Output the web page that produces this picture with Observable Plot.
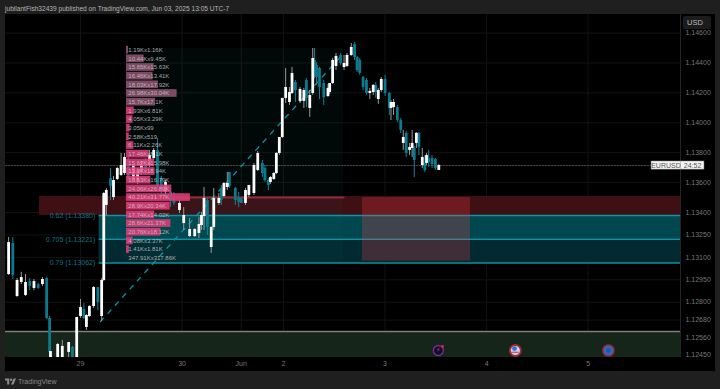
<!DOCTYPE html>
<html><head><meta charset="utf-8">
<script src="https://cdn.jsdelivr.net/npm/d3@7"></script>
<script src="https://cdn.jsdelivr.net/npm/@observablehq/plot@0.6"></script>
<style>
html,body{margin:0;padding:0;background:#1f1f1f;width:720px;height:389px;overflow:hidden;font-family:"Liberation Sans",sans-serif}
#head{height:14px;line-height:18px;padding-left:5px;font-size:6.6px;color:#b5b5b5;white-space:nowrap}
#chart{margin-left:5px;width:710px;height:357px;background:#000;position:relative}
#chart svg{display:block;background:transparent}
#usd{position:absolute;left:678px;top:2px;width:28px;height:13px;line-height:13px;background:#1c1c1c;border-radius:2px;color:#bbb;font-size:7.5px;padding-left:4px;box-sizing:border-box}
#foot{position:absolute;left:5px;top:376px;height:10px;display:flex;align-items:center;gap:2px;color:#8a8a8a;font-size:7px}
</style></head>
<body>
<div id="head">jubilantFish32439 published on TradingView.com, Jun 03, 2025 13:05 UTC-7</div>
<div id="chart"><div id="usd">USD</div></div>
<div id="foot"><svg width="11" height="7" viewBox="0 0 36 20"><path d="M14 20H7V7H0V0h14v20zM28 20h-8l8-20h8l-8 20z" fill="#8a8a8a"/><circle cx="20" cy="4" r="4" fill="#8a8a8a"/></svg><span>TradingView</span></div>
<script>
// x positions are hourly bar numbers counted from the "29" label; prices are in points (1/100000)
const dayTicks = [0, 24, 38, 48, 72, 96, 120];
const dayLabels = ["29", "30", "Jun", "2", "3", "4", "5"];
const priceTicks = [114600, 114400, 114200, 114000, 113800, 113600, 113400, 113250, 113100, 112950, 112800, 112680, 112560, 112450];

// [bar, open, high, low, close]
const candlesMay28 = [
 [-17,112985,113233,112979,113199],[-16,113193,113233,112952,112979],[-15,112838,112958,112831,112945],
 [-14,112932,113000,112918,112965],[-13,112845,112985,112838,112932],[-12,112938,112958,112878,112905],
 [-11,112892,112952,112878,112938],[-10,112918,112925,112885,112892],[-9,112918,112965,112905,112952],
 [-8,112958,112965,112684,112691],[-7.3,112691,112704,112430,112464]
];
const candlesMay29 = [
 [-7.1,112423,112497,112410,112470],[-5.4,112430,112524,112423,112517],[-4.3,112430,112544,112423,112504],
 [-2.8,112464,112530,112423,112530],[-1.9,112497,112504,112423,112430],[-0.9,112423,112698,112423,112698],
 [0,112704,112818,112691,112764],[0.8,112751,112791,112684,112691],[1.4,112631,112718,112611,112711],
 [2.1,112704,112778,112698,112771],[3.1,112771,112905,112758,112898],[4.1,112898,112898,112744,112798],
 [5,112704,112958,112671,112945],[5.5,112945,113534,112938,113527],[6.1,113447,113561,113380,113547],
 [7.1,113627,113694,113480,113574],[7.8,113500,113641,113480,113614],[8.7,113621,113701,113614,113694],
 [9.6,113648,113795,113641,113714],[10.4,113661,113795,113648,113768],[11.3,113748,113768,113614,113627],
 [12.5,113614,113728,113601,113714],[13.5,113601,113694,113587,113681],[14.4,113668,113748,113648,113734],
 [15.4,113748,113761,113648,113668],[16.3,113714,113815,113701,113781],[17.3,113761,113828,113748,113815],
 [18.2,113815,113895,113547,113581],[19.1,113627,113641,113514,113547],[20.1,113534,113614,113514,113601],
 [21.3,113534,113561,113433,113480]
];
const candlesMay30 = [
 [22.1,113480,113534,113447,113460],[23.4,113413,113480,113393,113460],[24.4,113326,113433,113280,113380],
 [25.8,113239,113360,113233,113286],[27,113239,113293,113233,113286],[28,113260,113367,113226,113320],
 [28.6,113313,113400,113280,113380],[29.2,113373,113567,113280,113494],[30,113480,113494,113246,113300],
 [30.9,113166,113306,113126,113300],[31.5,113300,113561,113280,113494],[32.7,113460,113527,113447,113494],
 [33.3,113561,113581,113447,113480],[33.9,113507,113601,113500,113594],[34.7,113567,113668,113547,113594],
 [35.2,113668,113668,113561,113574],[36.6,113561,113567,113447,113480],[37.4,113494,113534,113433,113467]
];
const candlesJun1 = [
 [38,113494,113494,113460,113460],[39,113460,113561,113447,113547],[39.8,113514,113581,113500,113581],
 [41,113527,113728,113514,113714],[41.9,113681,113808,113674,113795],[43,113728,113748,113634,113661],
 [43.6,113694,113714,113601,113614],[44.4,113614,113627,113547,113581],[44.9,113601,113641,113587,113634],
 [45.7,113621,113668,113614,113661],[46.3,113661,113801,113654,113795],[47,113795,113902,113781,113902],
 [47.7,113902,114163,113895,114163]
];
const candlesJun2 = [
 [48.5,114163,114363,114129,114236],[49.4,114136,114236,114116,114203],[50,114196,114370,114189,114330],
 [50.8,114270,114283,114136,114216],[51.9,114143,114236,114129,114223],[52.8,114143,114230,114096,114216],
 [53.4,114283,114296,114102,114163],[54.2,114096,114216,114036,114183],[54.9,114196,114497,114183,114430],
 [55.3,114417,114497,114296,114317],[55.8,114383,114404,114250,114303],[56.5,114363,114370,114156,114236],
 [57.5,114263,114283,114116,114169],[58.5,114176,114256,114169,114230],[58.9,114203,114263,114189,114263],
 [59.6,114263,114430,114256,114417],[60.4,114377,114464,114350,114444],[61.5,114450,114464,114383,114397],
 [62.3,114370,114450,114350,114397],[63,114377,114464,114370,114450],[64,114450,114531,114444,114504],
 [64.8,114524,114537,114417,114437],[65.4,114437,114444,114337,114350],[66,114417,114430,114317,114330],
 [66.8,114303,114310,114216,114236],[67.6,114283,114296,114183,114196],[68.4,114196,114230,114156,114210],
 [69.2,114203,114256,114183,114250],[69.8,114250,114270,114163,114203],[70.4,114156,114230,114123,114216],
 [71.1,114216,114303,114203,114290],[72,114290,114317,114176,114196]
];
const candlesJun3 = [
 [73,114196,114203,114049,114096],[73.4,114096,114149,114015,114136],[74,114102,114156,114049,114136],
 [74.9,114102,114116,114002,114015],[75.7,114015,114029,113929,113949],[76.3,113862,113949,113815,113902],
 [77,113929,113942,113768,113795],[77.8,113815,113862,113781,113835],[78.4,113828,113949,113768,113862],
 [78.9,113828,113842,113634,113748],[79.4,113862,113935,113828,113929],[80,113929,113935,113781,113835],
 [80.8,113714,113828,113694,113768],[81.4,113728,113781,113667,113681],[81.8,113728,113795,113714,113781],
 [82.3,113761,113815,113701,113734],[83.1,113761,113781,113694,113721],[83.9,113755,113761,113681,113694],
 [84.7,113681,113721,113681,113714]
];

// volume profile rows, top to bottom
const rowPrice = [114486,114428,114370,114312,114254,114196,114138,114080,114022,113964,113906,113848,113790,113732,113674,113616,113558,113500,113442,113384,113326,113268,113210,113152,113094];
const rowLabel = ["1.19Kx1.16K","10.44Kx9.45K","15.65Kx15.63K","16.46Kx13.41K","18.03Kx17.92K","26.98Kx30.04K","15.7Kx17.1K","1.93Kx6.81K","4.05Kx3.29K","3.05Kx99","2.58Kx519","6.11Kx2.26K","17.46Kx8.1K","15.67Kx15.98K","13.3Kx18.94K","10.63Kx16.79K","24.06Kx26.89K","40.21Kx31.77K","28.9Kx20.34K","17.74Kx14.02K","28.6Kx21.37K","20.76Kx18.12K","4.08Kx3.37K","1.41Kx1.81K","347.91Kx317.86K"];
const rowBuy  = [1.19,10.44,15.65,16.46,18.03,26.98,15.7,1.93,4.05,3.05,2.58,6.11,17.46,15.67,13.3,10.63,24.06,40.21,28.9,17.74,28.6,20.76,4.08,1.41];
const rowSell = [1.16,9.45,15.63,13.41,17.92,30.04,17.1,6.81,3.29,0.99,0.52,2.26,8.1,15.98,18.94,16.79,26.89,31.77,20.34,14.02,21.37,18.12,3.37,1.81];

// levels and zones, prices in points
const fibLevels = [113380, 113221, 113062];
const fibNames = ["0.62", "0.705", "0.79"];
const redZone = [113507, 113380];
const greenTop = 112604;
const lastPrice = 113714;

const P = v => v / 100000;
const left = -17.73, right = 141.84;
const cand = [...candlesMay28, ...candlesMay29, ...candlesMay30, ...candlesJun1, ...candlesJun2, ...candlesJun3]
  .map(([i,o,h,l,c]) => ({i, o:P(o), h:P(h), l:P(l), c:P(c)}));
const up = cand.filter(d => d.c >= d.o), down = cand.filter(d => d.c < d.o);
const rows = rowPrice.map((p,k) => ({k, p:P(p), label:rowLabel[k], total: k < rowBuy.length ? rowBuy[k]+rowSell[k] : 0}));
const bars = rows.filter(r => r.total > 0);
const half = 0.00029, profX = 10.87, profK = 0.21;
const TEAL = "#0c93a6";

const rect = (a, o) => Plot.rect(a, {x1:"a", x2:"b", y1:"t", y2:"u", ...o});
const svg = Plot.plot({
  width: 710, height: 357,
  marginLeft: 0, marginRight: 35, marginTop: 0, marginBottom: 14,
  x: {domain:[left, right], label:null},
  y: {domain:[1.124301, 1.147244], label:null},
  style: {background:"transparent", fontFamily:'"Liberation Sans",sans-serif', fontSize:"7px"},
  marks: [
    Plot.gridX(dayTicks, {stroke:"#131313", strokeOpacity:1}),
    Plot.gridY(priceTicks.map(P), {stroke:"#131313", strokeOpacity:1}),
    Plot.ruleX([right], {stroke:"#242424"}),
    Plot.axisY(priceTicks.map(P), {anchor:"right", tickSize:0, tickPadding:5, tickFormat:d3.format(".5f"), color:"#777", label:null, fontSize:7}),
    Plot.axisX(dayTicks, {anchor:"bottom", tickSize:0, tickPadding:4, tickFormat:(d,k)=>dayLabels[dayTicks.indexOf(d)], color:"#777", label:null, fontSize:7}),
    // zones
    rect([{a:-9.7,b:right,t:P(redZone[0]),u:P(redZone[1])}], {fill:"#3e0f13"}),
    rect([{a:4.4,b:right,t:P(fibLevels[0]),u:P(fibLevels[1])}], {fill:"#01474f"}),
    rect([{a:4.4,b:right,t:P(fibLevels[1]),u:P(fibLevels[2])}], {fill:"#022a30"}),
    rect([{a:left,b:right,t:P(greenTop),u:1.124301}], {fill:"#15251a"}),
    Plot.ruleY([P(greenTop)], {stroke:"#7d7f7a", strokeWidth:1.5}),
    rect([{a:10.87,b:62.2,t:1.14497,u:1.13075}], {fill:"#0f5a5a", fillOpacity:0.09}),
    Plot.ruleY(fibLevels.map(P), {x1:()=>4.4, x2:()=>right, stroke:TEAL, strokeWidth:1.6}),
    Plot.line([{x:10.87,y:1.1350},{x:62.2,y:1.1350}], {x:"x", y:"y", stroke:"#8f2c38", strokeWidth:2}),
    rect([{a:66.65,b:92.2,t:1.13500,u:1.13075}], {fill:"rgb(250,60,70)", fillOpacity:0.25}),
    Plot.text(fibLevels.map((v,k)=>({v:P(v), s:`${fibNames[k]} (${P(v).toFixed(5)})`})), {x:()=>3.5, y:"v", text:"s", textAnchor:"end", fill:"#0d7688", fontSize:7, dy:0}),
    // last price
    Plot.line([{x:left,y:P(lastPrice)},{x:135,y:P(lastPrice)}], {x:"x", y:"y", stroke:"#4a4a4a", strokeWidth:1, strokeDasharray:"1.5,1.5"}),
    // measure line
    Plot.line([{x:4.73,y:1.12671},{x:62.2,y:1.14464}], {x:"x", y:"y", stroke:TEAL, strokeWidth:1.3, strokeDasharray:"4.5,6.5"}),
    // candles
    Plot.ruleX(down, {x:"i", y1:"l", y2:"h", stroke:"#0b8598", strokeWidth:1, clip:true}),
    Plot.ruleX(up, {x:"i", y1:"l", y2:"h", stroke:"#9a9a9a", strokeWidth:1, clip:true}),
    Plot.ruleX(down, {x:"i", y1:"o", y2:"c", stroke:"#0a7b8e", strokeWidth:2.8, clip:true}),
    Plot.ruleX(up, {x:"i", y1:"o", y2:"c", stroke:"#ffffff", strokeWidth:2.8, clip:true}),
    // volume profile
    Plot.rect(bars, {x1:()=>profX, x2:d=>profX+profK*d.total, y1:d=>d.p+half, y2:d=>d.p-half, insetTop:0.5, insetBottom:0.5,
      fill:d=>d.k<7?"#8d5370":"#df3c7a", fillOpacity:0.88}),
    Plot.text(rows, {x:()=>11.3, y:"p", text:"label", textAnchor:"start", fill:"#c8c8c8", fillOpacity:0.85, fontSize:6}),
    // events
    Plot.dot([{x:84.6,y:1.12477}], {x:"x", y:"y", r:5, fill:"#140a1e", stroke:"#7a2c9c", strokeWidth:1.3}),
    Plot.text([{x:84.6,y:1.12477}], {x:"x", y:"y", text:()=>"\u26A1", fill:"#a050c8", fontSize:6, fontFamily:"DejaVu Sans"}),
    Plot.dot([{x:85.6,y:1.12504}], {x:"x", y:"y", r:1.4, fill:"#e0244a"}),
    Plot.dot([{x:102.8,y:1.12477}], {x:"x", y:"y", r:5.5, fill:"#c0d4ff", stroke:"#a82a30", strokeWidth:1.8}),
    Plot.dot([{x:102.6,y:1.12490}], {x:"x", y:"y", r:2.4, fill:"#3a6fc8"}),
    Plot.ruleY([1.12465], {x1:()=>101.9, x2:()=>103.7, stroke:"#d84848", strokeWidth:1.2}),
    Plot.dot([{x:124.8,y:1.12477}], {x:"x", y:"y", r:5.5, fill:"#2a6cc0", stroke:"#a02838", strokeWidth:1.6}),
    Plot.dot([{x:124.8,y:1.12477}], {x:"x", y:"y", r:2.4, fill:"#1c58a8"}),
    // last price tag
    Plot.rect([{a:135,b:147.5,t:1.13741,u:1.13687}], {x1:"a", x2:"b", y1:"t", y2:"u", fill:"#f4f4f4", stroke:"#999", strokeWidth:0.5}),
    Plot.ruleX([141.84], {y1:()=>1.13741, y2:()=>1.13687, stroke:"#aaa", strokeWidth:0.6}),
    Plot.text([{x:138.4,s:"EURUSD"},{x:144.7,s:"24:52"}], {x:"x", y:()=>1.13714, text:"s", fill:"#555", fontSize:7})
  ]
});
document.getElementById("chart").prepend(svg);
</script>
</body></html>
